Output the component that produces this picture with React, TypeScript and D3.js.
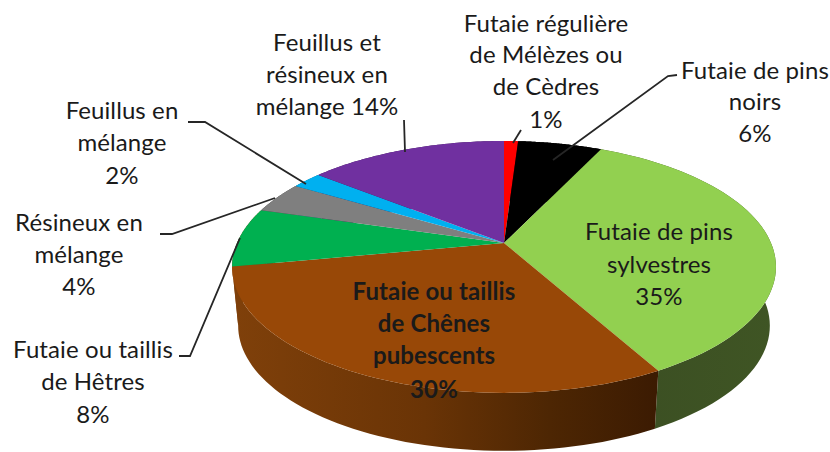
import React from "react";
import * as d3 from "d3";

const categories = [
  "Futaie régulière de Mélèzes ou de Cèdres",
  "Futaie de pins noirs",
  "Futaie de pins sylvestres",
  "Futaie ou taillis de Chênes pubescents",
  "Futaie ou taillis de Hêtres",
  "Résineux en mélange",
  "Feuillus en mélange",
  "Feuillus et résineux en mélange",
];
const values = [1, 6, 35, 30, 7.6, 4, 2.2, 14.2];
const topColors = ["#ff0000", "#000000", "#92d050", "#984807", "#00b050", "#7f7f7f", "#00b0f0", "#7030a0"];
const wallColors = ["#7f0000", "#000000", "url(#wallGreen)", "url(#wallBrown)", "url(#wallBrown)", "#404040", "#005878", "#381850"];

type Lab = { lines: string[]; x: number; ys: number[]; bold?: boolean };
const labels: Lab[] = [
  { lines: ["Futaie régulière", "de Mélèzes ou", "de Cèdres", "1%"], x: 546, ys: [32, 63, 95, 128] },
  { lines: ["Futaie de pins", "noirs", "6%"], x: 755, ys: [79, 110, 142] },
  { lines: ["Futaie de pins", "sylvestres", "35%"], x: 659, ys: [240, 273, 305] },
  { lines: ["Futaie ou taillis", "de Chênes", "pubescents", "30%"], x: 434, ys: [300, 332, 364, 398], bold: true },
  { lines: ["Futaie ou taillis", "de Hêtres", "8%"], x: 93, ys: [358, 390, 423] },
  { lines: ["Résineux en", "mélange", "4%"], x: 79, ys: [231, 263, 295] },
  { lines: ["Feuillus en", "mélange", "2%"], x: 122, ys: [119, 151, 184] },
  { lines: ["Feuillus et", "résineux en", "mélange 14%"], x: 327, ys: [51, 83, 115] },
];
const leaders: [number, number][][] = [
  [[521, 130], [513, 143]],
  [[677, 75], [668, 76], [553, 160]],
  [[404, 120], [405, 152]],
  [[188, 122], [205, 122], [306, 184]],
  [[160, 234], [172, 234], [275, 198]],
  [[179, 356], [190, 356], [240, 238]],
];

const PERSP = 0.19;
const project = (t: number, cx: number, cy: number, a: number, b: number): [number, number] => {
  const w = 1 + PERSP * Math.cos(t);
  return [cx + (a * Math.sin(t)) / w, cy - (b * Math.cos(t)) / w];
};
const topPt = (t: number) => project(t, 504, 243, 267, 121.4);
const basePt = (t: number) => project(t, 504, 302, 261, 120.5);

const pieGen = d3.pie<number>().sort(null).startAngle(0).endAngle(2 * Math.PI);
const arcs = pieGen(values);
const line = d3.line();
const steps = (a: number, b: number) => d3.range(0, 1.0001, 1 / 60).map((f) => a + (b - a) * f);

export default function App() {
  return (
    <svg width={830} height={452} style={{ position: "absolute", left: 0, top: 0, background: "#fff" }} fontFamily="Lato, 'Open Sans', sans-serif">
      <defs>
        <linearGradient id="wallBrown" gradientUnits="userSpaceOnUse" x1={235} x2={655} y1={0} y2={0}>
          <stop offset="0" stopColor="#7f400a" />
          <stop offset="0.45" stopColor="#6a3406" />
          <stop offset="0.75" stopColor="#4d2603" />
          <stop offset="1" stopColor="#3c1b02" />
        </linearGradient>
        <linearGradient id="wallGreen" gradientUnits="userSpaceOnUse" x1={650} x2={775} y1={0} y2={0}>
          <stop offset="0" stopColor="#3c5023" />
          <stop offset="1" stopColor="#3f5524" />
        </linearGradient>
      </defs>
      {arcs.map((d, i) => {
        const ts = steps(d.startAngle, d.endAngle);
        const pts = [...ts.map(topPt), ...ts.slice().reverse().map(basePt)];
        return <path key={"w" + i} d={line(pts) + "Z"} fill={wallColors[i]} />;
      })}
      {arcs.map((d, i) => {
        const ts = steps(d.startAngle, d.endAngle);
        const pts: [number, number][] = [[504, 243], ...ts.map(topPt)];
        return <path key={"t" + i} d={line(pts) + "Z"} fill={topColors[i]} data-name={categories[i]} />;
      })}
      {leaders.map((l, i) => (
        <path key={"l" + i} d={line(l) ?? ""} fill="none" stroke="#262626" strokeWidth={1.8} />
      ))}
      {labels.map((l, i) =>
        l.lines.map((s, j) => (
          <text key={i + "-" + j} x={l.x} y={l.ys[j]} textAnchor="middle" fontSize={24} letterSpacing={0.1} fontWeight={l.bold ? 700 : 400} fill="#1a1a1a">
            {s}
          </text>
        ))
      )}
    </svg>
  );
}
